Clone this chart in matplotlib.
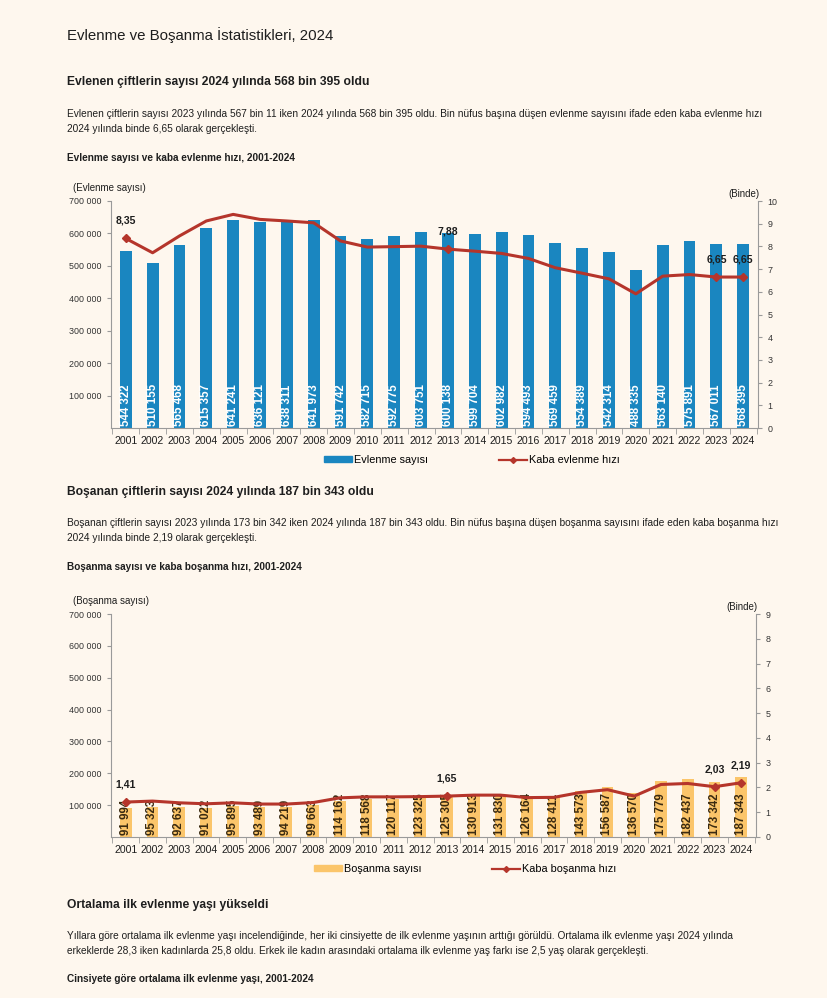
import matplotlib
matplotlib.use('Agg')
import matplotlib.pyplot as plt
from matplotlib.lines import Line2D
from matplotlib.patches import Patch

W, H = 828, 998
BG = '#fef7ee'
BLUE = '#1a86c0'
ORANGE = '#fbc56a'
RED = '#b5352b'
TXT = '#1e1e1e'
GRID = '#9a9a9a'
NARROW = ['Liberation Sans Narrow', 'Liberation Sans', 'DejaVu Sans']

plt.rcParams['font.family'] = ['Liberation Sans', 'DejaVu Sans']

years = [str(y) for y in range(2001, 2025)]

evlenme = [544322, 510155, 565468, 615357, 641241, 636121, 638311, 641973,
           591742, 582715, 592775, 603751, 600138, 599704, 602982, 594493,
           569459, 554389, 542314, 488335, 563140, 575891, 567011, 568395]
evlenme_hizi = [8.35, 7.72, 8.46, 9.12, 9.41, 9.19, 9.12, 9.04, 8.24, 7.97,
                7.99, 8.01, 7.88, 7.79, 7.69, 7.47, 7.06, 6.82, 6.57, 5.91,
                6.69, 6.76, 6.65, 6.65]

bosanma = [91994, 95323, 92637, 91022, 95895, 93489, 94219, 99663,
           114162, 118568, 120117, 123325, 125305, 130913, 131830, 126164,
           128411, 143573, 156587, 136570, 175779, 182437, 173342, 187343]
bosanma_hizi = [1.41, 1.45, 1.38, 1.34, 1.38, 1.33, 1.33, 1.39, 1.58, 1.62,
                1.62, 1.63, 1.65, 1.69, 1.69, 1.59, 1.60, 1.80, 1.91, 1.65,
                2.12, 2.16, 2.03, 2.19]

marked = [0, 12, 22, 23]

left_ticks = [100000, 200000, 300000, 400000, 500000, 600000, 700000]


def fmt(v):
    return '{:,}'.format(v).replace(',', ' ')


def px(x, y):
    return x / W, 1 - y / H


fig = plt.figure(figsize=(W / 100, H / 100), dpi=100, facecolor=BG)


def text(x, y, s, size, bold=False, **kw):
    fig.text(*px(x, y), s, fontsize=size, fontweight='bold' if bold else 'normal',
             color=TXT, va='center', ha='left', **kw)


def chart(box, counts, rates, bar_color, lab_color, rmax, ylabel, leg_y, leg_x, names):
    l, t, r, b = box
    ax = fig.add_axes([l / W, 1 - b / H, (r - l) / W, (b - t) / H])
    ax.set_facecolor('none')
    x = list(range(len(counts)))
    ax.bar(x, counts, width=0.44, color=bar_color, zorder=2)
    ax.set_ylim(0, 700000)
    ax.set_xlim(-0.55, len(counts) - 0.45)
    ax.set_yticks(left_ticks)
    ax.set_yticklabels([fmt(v) for v in left_ticks])
    ax.set_xticks(x)
    ax.set_xticklabels(years)
    ax.set_xticks([i + 0.5 for i in range(-1, len(counts))], minor=True)
    ax.tick_params(axis='x', which='major', length=0, labelsize=7.6, colors=TXT, pad=6)
    ax.tick_params(axis='x', which='minor', length=4, color=GRID, direction='out')
    ax.tick_params(axis='y', length=3, color=GRID, labelsize=6.4, colors='#333333', pad=4)
    for s in ['top', 'right']:
        ax.spines[s].set_visible(False)
    for s in ['left', 'bottom']:
        ax.spines[s].set_color(GRID)
        ax.spines[s].set_linewidth(0.8)
    for i, v in enumerate(counts):
        ax.text(i, 5000, fmt(v), rotation=90, ha='center', va='bottom',
                color=lab_color, fontsize=8.3, fontweight='bold', family=NARROW, zorder=4)

    ax2 = ax.twinx()
    ax2.set_ylim(0, rmax)
    ax2.set_yticks(range(0, rmax + 1))
    ax2.tick_params(axis='y', length=3, color=GRID, labelsize=6.4, colors='#333333', pad=4)
    for s in ['top', 'left', 'bottom']:
        ax2.spines[s].set_visible(False)
    ax2.spines['right'].set_color(GRID)
    ax2.spines['right'].set_linewidth(0.8)
    ax2.plot(x, rates, color=RED, lw=2.2, zorder=3)
    ax2.plot([x[i] for i in marked], [rates[i] for i in marked], ls='none',
             marker='D', ms=4.5, color=RED, zorder=3)
    for i in marked:
        ax2.annotate('{:.2f}'.format(rates[i]).replace('.', ','), (x[i], rates[i]),
                     xytext=(0, 9), textcoords='offset points', ha='center',
                     va='bottom', fontsize=7.6, fontweight='bold', color=TXT)

    text(l - 38, t - 13, ylabel, 7)
    fig.text(*px(r + 2, t - 7), '(Binde)', fontsize=7, color=TXT, ha='right', va='center')

    handles = [Patch(color=bar_color), Line2D([], [], color=RED, lw=1.6, marker='D', ms=3)]
    fig.legend(handles, names, loc='center left', bbox_to_anchor=px(leg_x, leg_y),
               ncol=2, frameon=False, fontsize=7.8, handlelength=2.6, handleheight=0.5,
               columnspacing=6.5, handletextpad=0.2)
    return ax


BODY = 7.3

text(67, 35, 'Evlenme ve Boşanma İstatistikleri, 2024', 10.8)
text(67, 82, 'Evlenen çiftlerin sayısı 2024 yılında 568 bin 395 oldu', 8.7, bold=True)
text(67, 114, 'Evlenen çiftlerin sayısı 2023 yılında 567 bin 11 iken 2024 yılında 568 bin 395 oldu. '
     'Bin nüfus başına düşen evlenme sayısını ifade eden kaba evlenme hızı', BODY)
text(67, 129, '2024 yılında binde 6,65 olarak gerçekleşti.', BODY)
text(67, 158, 'Evlenme sayısı ve kaba evlenme hızı, 2001-2024', 7.2, bold=True)

chart((111, 201, 758, 428), evlenme, evlenme_hizi, BLUE, 'white', 10,
      '(Evlenme sayısı)', 460, 314, ['Evlenme sayısı', 'Kaba evlenme hızı'])

text(67, 492, 'Boşanan çiftlerin sayısı 2024 yılında 187 bin 343 oldu', 8.7, bold=True)
text(67, 523, 'Boşanan çiftlerin sayısı 2023 yılında 173 bin 342 iken 2024 yılında 187 bin 343 oldu. '
     'Bin nüfus başına düşen boşanma sayısını ifade eden kaba boşanma hızı', BODY)
text(67, 538, '2024 yılında binde 2,19 olarak gerçekleşti.', BODY)
text(67, 567, 'Boşanma sayısı ve kaba boşanma hızı, 2001-2024', 7.2, bold=True)

chart((111, 614, 756, 837), bosanma, bosanma_hizi, ORANGE, '#3a2a10', 9,
      '(Boşanma sayısı)', 869, 304, ['Boşanma sayısı', 'Kaba boşanma hızı'])

text(67, 905, 'Ortalama ilk evlenme yaşı yükseldi', 8.7, bold=True)
text(67, 936, 'Yıllara göre ortalama ilk evlenme yaşı incelendiğinde, her iki cinsiyette de ilk evlenme '
     'yaşının arttığı görüldü. Ortalama ilk evlenme yaşı 2024 yılında', BODY)
text(67, 951, 'erkeklerde 28,3 iken kadınlarda 25,8 oldu. Erkek ile kadın arasındaki ortalama ilk evlenme '
     'yaş farkı ise 2,5 yaş olarak gerçekleşti.', BODY)
text(67, 979, 'Cinsiyete göre ortalama ilk evlenme yaşı, 2001-2024', 7.2, bold=True)

fig.savefig('out.png', dpi=100, facecolor=BG)
